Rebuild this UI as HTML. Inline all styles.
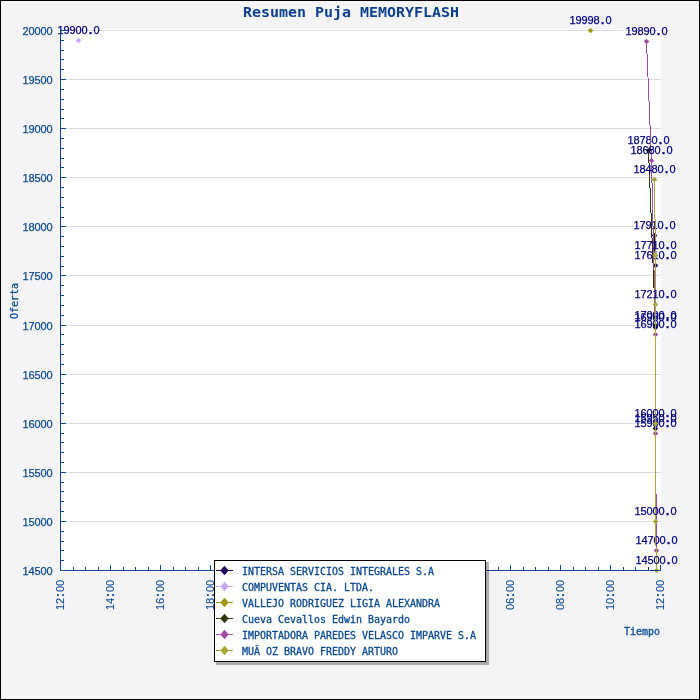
<!DOCTYPE html>
<html lang="es"><head><meta charset="utf-8"><title>Resumen Puja MEMORYFLASH</title>
<style>html,body{margin:0;padding:0;background:#f4f4f7;}svg{display:block;}text{font-family:"DejaVu Sans Mono","Liberation Mono",monospace;font-size:10px;}.n{font-family:"Liberation Sans","DejaVu Sans",sans-serif;font-size:11px;text-anchor:middle}.t{fill:#0b4a91;stroke:#0b4a91;stroke-width:0.3px}.v{fill:#000082;stroke:#000082;stroke-width:0.2px}.n{stroke-width:0.25px}.b{font-weight:bold;font-size:13px}.r{stroke-width:0.1px}.h{font-family:"DejaVu Sans Mono","Liberation Mono",monospace;font-weight:bold;font-size:13.5px;fill:#0b3f8f;stroke:none}</style></head><body>
<svg width="700" height="700" viewBox="0 0 700 700">
<rect x="0" y="0" width="700" height="700" fill="#f4f4f7"/>
<g style="will-change:transform">
<rect x="0.5" y="0.5" width="699" height="699" fill="none" stroke="#000" stroke-width="1" shape-rendering="crispEdges"/>
<rect x="59" y="29" width="602" height="543" fill="#fff"/>
<g stroke="#dcdcdc" stroke-width="1" shape-rendering="crispEdges">
<line x1="61" y1="521.5" x2="661" y2="521.5"/>
<line x1="61" y1="472.5" x2="661" y2="472.5"/>
<line x1="61" y1="423.5" x2="661" y2="423.5"/>
<line x1="61" y1="374.5" x2="661" y2="374.5"/>
<line x1="61" y1="325.5" x2="661" y2="325.5"/>
<line x1="61" y1="275.5" x2="661" y2="275.5"/>
<line x1="61" y1="226.5" x2="661" y2="226.5"/>
<line x1="61" y1="177.5" x2="661" y2="177.5"/>
<line x1="61" y1="128.5" x2="661" y2="128.5"/>
<line x1="61" y1="79.5" x2="661" y2="79.5"/>
<line x1="61" y1="30.5" x2="661" y2="30.5"/>
</g>
<polyline points="654.5,235.5 655.5,265.5 655.5,327.5 655.5,428.5" fill="none" stroke="#20005f" stroke-width="1" shape-rendering="crispEdges"/>
<polygon points="651.7,235.5 654.5,232.7 657.3,235.5 654.5,238.3" fill="#20005f"/>
<polygon points="652.7,265.5 655.5,262.7 658.3,265.5 655.5,268.3" fill="#20005f"/>
<polygon points="652.7,327.5 655.5,324.7 658.3,327.5 655.5,330.3" fill="#20005f"/>
<polygon points="652.7,428.5 655.5,425.7 658.3,428.5 655.5,431.3" fill="#20005f"/>
<text class="n v" x="636.5 642.5 648.5 654.5 660.5 666.5 672.5" y="229">17910<tspan class="b">.</tspan>0</text>
<text class="n v" x="637.5 643.5 649.5 655.5 661.5 667.5 673.5" y="259">17610<tspan class="b">.</tspan>0</text>
<text class="n v" x="637.5 643.5 649.5 655.5 661.5 667.5 673.5" y="321">16980<tspan class="b">.</tspan>0</text>
<text class="n v" x="637.5 643.5 649.5 655.5 661.5 667.5 673.5" y="422">15950<tspan class="b">.</tspan>0</text>
<polygon points="75.7,40.5 78.5,37.7 81.3,40.5 78.5,43.3" fill="#c8a8ff"/>
<text class="n v" x="60.5 66.5 72.5 78.5 84.5 90.5 96.5" y="34">19900<tspan class="b">.</tspan>0</text>
<polygon points="587.7,30.5 590.5,27.7 593.3,30.5 590.5,33.3" fill="#a09810"/>
<text class="n v" x="572.5 578.5 584.5 590.5 596.5 602.5 608.5" y="24">19998<tspan class="b">.</tspan>0</text>
<polyline points="648.5,150.5 655.5,325.5" fill="none" stroke="#303810" stroke-width="1" shape-rendering="crispEdges"/>
<polygon points="645.7,150.5 648.5,147.7 651.3,150.5 648.5,153.3" fill="#303810"/>
<polygon points="652.7,325.5 655.5,322.7 658.3,325.5 655.5,328.3" fill="#303810"/>
<text class="n v" x="630.5 636.5 642.5 648.5 654.5 660.5 666.5" y="144">18780<tspan class="b">.</tspan>0</text>
<text class="n v" x="637.5 643.5 649.5 655.5 661.5 667.5 673.5" y="319">17000<tspan class="b">.</tspan>0</text>
<polyline points="646.5,41.5 651.5,160.5 655.5,334.5 655.5,433.5 656.5,550.5" fill="none" stroke="#a050a0" stroke-width="1" shape-rendering="crispEdges"/>
<polygon points="643.7,41.5 646.5,38.7 649.3,41.5 646.5,44.3" fill="#a050a0"/>
<polygon points="648.7,160.5 651.5,157.7 654.3,160.5 651.5,163.3" fill="#a050a0"/>
<polygon points="652.7,334.5 655.5,331.7 658.3,334.5 655.5,337.3" fill="#a050a0"/>
<polygon points="652.7,433.5 655.5,430.7 658.3,433.5 655.5,436.3" fill="#a050a0"/>
<polygon points="653.7,550.5 656.5,547.7 659.3,550.5 656.5,553.3" fill="#a050a0"/>
<text class="n v" x="628.5 634.5 640.5 646.5 652.5 658.5 664.5" y="35">19890<tspan class="b">.</tspan>0</text>
<text class="n v" x="633.5 639.5 645.5 651.5 657.5 663.5 669.5" y="154">18680<tspan class="b">.</tspan>0</text>
<text class="n v" x="637.5 643.5 649.5 655.5 661.5 667.5 673.5" y="328">16900<tspan class="b">.</tspan>0</text>
<text class="n v" x="637.5 643.5 649.5 655.5 661.5 667.5 673.5" y="427">15900<tspan class="b">.</tspan>0</text>
<text class="n v" x="638.5 644.5 650.5 656.5 662.5 668.5 674.5" y="544">14700<tspan class="b">.</tspan>0</text>
<polyline points="654.5,179.5 655.5,255.5 655.5,304.5 655.5,423.5 655.5,521.5 656.5,570.5" fill="none" stroke="#a8a838" stroke-width="1" shape-rendering="crispEdges"/>
<polygon points="651.7,179.5 654.5,176.7 657.3,179.5 654.5,182.3" fill="#a8a838"/>
<polygon points="652.7,255.5 655.5,252.7 658.3,255.5 655.5,258.3" fill="#a8a838"/>
<polygon points="652.7,304.5 655.5,301.7 658.3,304.5 655.5,307.3" fill="#a8a838"/>
<polygon points="652.7,423.5 655.5,420.7 658.3,423.5 655.5,426.3" fill="#a8a838"/>
<polygon points="652.7,521.5 655.5,518.7 658.3,521.5 655.5,524.3" fill="#a8a838"/>
<polygon points="653.7,570.5 656.5,567.7 659.3,570.5 656.5,573.3" fill="#a8a838"/>
<text class="n v" x="636.5 642.5 648.5 654.5 660.5 666.5 672.5" y="173">18480<tspan class="b">.</tspan>0</text>
<text class="n v" x="637.5 643.5 649.5 655.5 661.5 667.5 673.5" y="249">17710<tspan class="b">.</tspan>0</text>
<text class="n v" x="637.5 643.5 649.5 655.5 661.5 667.5 673.5" y="298">17210<tspan class="b">.</tspan>0</text>
<text class="n v" x="637.5 643.5 649.5 655.5 661.5 667.5 673.5" y="417">16000<tspan class="b">.</tspan>0</text>
<text class="n v" x="637.5 643.5 649.5 655.5 661.5 667.5 673.5" y="515">15000<tspan class="b">.</tspan>0</text>
<text class="n v" x="638.5 644.5 650.5 656.5 662.5 668.5 674.5" y="564">14500<tspan class="b">.</tspan>0</text>
<g stroke="#0b4a91" stroke-width="1" shape-rendering="crispEdges">
<line x1="60.5" y1="30" x2="60.5" y2="571"/>
<line x1="60" y1="570.5" x2="661" y2="570.5"/>
<line x1="61" y1="570.5" x2="66" y2="570.5"/>
<line x1="61" y1="560.5" x2="64" y2="560.5"/>
<line x1="61" y1="550.5" x2="64" y2="550.5"/>
<line x1="61" y1="541.5" x2="64" y2="541.5"/>
<line x1="61" y1="531.5" x2="64" y2="531.5"/>
<line x1="61" y1="521.5" x2="66" y2="521.5"/>
<line x1="61" y1="511.5" x2="64" y2="511.5"/>
<line x1="61" y1="501.5" x2="64" y2="501.5"/>
<line x1="61" y1="491.5" x2="64" y2="491.5"/>
<line x1="61" y1="482.5" x2="64" y2="482.5"/>
<line x1="61" y1="472.5" x2="66" y2="472.5"/>
<line x1="61" y1="462.5" x2="64" y2="462.5"/>
<line x1="61" y1="452.5" x2="64" y2="452.5"/>
<line x1="61" y1="442.5" x2="64" y2="442.5"/>
<line x1="61" y1="433.5" x2="64" y2="433.5"/>
<line x1="61" y1="423.5" x2="66" y2="423.5"/>
<line x1="61" y1="413.5" x2="64" y2="413.5"/>
<line x1="61" y1="403.5" x2="64" y2="403.5"/>
<line x1="61" y1="393.5" x2="64" y2="393.5"/>
<line x1="61" y1="383.5" x2="64" y2="383.5"/>
<line x1="61" y1="374.5" x2="66" y2="374.5"/>
<line x1="61" y1="364.5" x2="64" y2="364.5"/>
<line x1="61" y1="354.5" x2="64" y2="354.5"/>
<line x1="61" y1="344.5" x2="64" y2="344.5"/>
<line x1="61" y1="334.5" x2="64" y2="334.5"/>
<line x1="61" y1="325.5" x2="66" y2="325.5"/>
<line x1="61" y1="315.5" x2="64" y2="315.5"/>
<line x1="61" y1="305.5" x2="64" y2="305.5"/>
<line x1="61" y1="295.5" x2="64" y2="295.5"/>
<line x1="61" y1="285.5" x2="64" y2="285.5"/>
<line x1="61" y1="275.5" x2="66" y2="275.5"/>
<line x1="61" y1="266.5" x2="64" y2="266.5"/>
<line x1="61" y1="256.5" x2="64" y2="256.5"/>
<line x1="61" y1="246.5" x2="64" y2="246.5"/>
<line x1="61" y1="236.5" x2="64" y2="236.5"/>
<line x1="61" y1="226.5" x2="66" y2="226.5"/>
<line x1="61" y1="217.5" x2="64" y2="217.5"/>
<line x1="61" y1="207.5" x2="64" y2="207.5"/>
<line x1="61" y1="197.5" x2="64" y2="197.5"/>
<line x1="61" y1="187.5" x2="64" y2="187.5"/>
<line x1="61" y1="177.5" x2="66" y2="177.5"/>
<line x1="61" y1="167.5" x2="64" y2="167.5"/>
<line x1="61" y1="158.5" x2="64" y2="158.5"/>
<line x1="61" y1="148.5" x2="64" y2="148.5"/>
<line x1="61" y1="138.5" x2="64" y2="138.5"/>
<line x1="61" y1="128.5" x2="66" y2="128.5"/>
<line x1="61" y1="118.5" x2="64" y2="118.5"/>
<line x1="61" y1="109.5" x2="64" y2="109.5"/>
<line x1="61" y1="99.5" x2="64" y2="99.5"/>
<line x1="61" y1="89.5" x2="64" y2="89.5"/>
<line x1="61" y1="79.5" x2="66" y2="79.5"/>
<line x1="61" y1="69.5" x2="64" y2="69.5"/>
<line x1="61" y1="59.5" x2="64" y2="59.5"/>
<line x1="61" y1="50.5" x2="64" y2="50.5"/>
<line x1="61" y1="40.5" x2="64" y2="40.5"/>
<line x1="61" y1="30.5" x2="66" y2="30.5"/>
<line x1="60.5" y1="565" x2="60.5" y2="570"/>
<line x1="73.5" y1="567" x2="73.5" y2="570"/>
<line x1="85.5" y1="567" x2="85.5" y2="570"/>
<line x1="98.5" y1="567" x2="98.5" y2="570"/>
<line x1="110.5" y1="565" x2="110.5" y2="570"/>
<line x1="123.5" y1="567" x2="123.5" y2="570"/>
<line x1="135.5" y1="567" x2="135.5" y2="570"/>
<line x1="148.5" y1="567" x2="148.5" y2="570"/>
<line x1="160.5" y1="565" x2="160.5" y2="570"/>
<line x1="173.5" y1="567" x2="173.5" y2="570"/>
<line x1="185.5" y1="567" x2="185.5" y2="570"/>
<line x1="198.5" y1="567" x2="198.5" y2="570"/>
<line x1="210.5" y1="565" x2="210.5" y2="570"/>
<line x1="223.5" y1="567" x2="223.5" y2="570"/>
<line x1="235.5" y1="567" x2="235.5" y2="570"/>
<line x1="248.5" y1="567" x2="248.5" y2="570"/>
<line x1="260.5" y1="565" x2="260.5" y2="570"/>
<line x1="273.5" y1="567" x2="273.5" y2="570"/>
<line x1="285.5" y1="567" x2="285.5" y2="570"/>
<line x1="298.5" y1="567" x2="298.5" y2="570"/>
<line x1="310.5" y1="565" x2="310.5" y2="570"/>
<line x1="323.5" y1="567" x2="323.5" y2="570"/>
<line x1="335.5" y1="567" x2="335.5" y2="570"/>
<line x1="348.5" y1="567" x2="348.5" y2="570"/>
<line x1="360.5" y1="565" x2="360.5" y2="570"/>
<line x1="373.5" y1="567" x2="373.5" y2="570"/>
<line x1="385.5" y1="567" x2="385.5" y2="570"/>
<line x1="398.5" y1="567" x2="398.5" y2="570"/>
<line x1="410.5" y1="565" x2="410.5" y2="570"/>
<line x1="423.5" y1="567" x2="423.5" y2="570"/>
<line x1="435.5" y1="567" x2="435.5" y2="570"/>
<line x1="448.5" y1="567" x2="448.5" y2="570"/>
<line x1="460.5" y1="565" x2="460.5" y2="570"/>
<line x1="473.5" y1="567" x2="473.5" y2="570"/>
<line x1="485.5" y1="567" x2="485.5" y2="570"/>
<line x1="498.5" y1="567" x2="498.5" y2="570"/>
<line x1="510.5" y1="565" x2="510.5" y2="570"/>
<line x1="523.5" y1="567" x2="523.5" y2="570"/>
<line x1="535.5" y1="567" x2="535.5" y2="570"/>
<line x1="548.5" y1="567" x2="548.5" y2="570"/>
<line x1="560.5" y1="565" x2="560.5" y2="570"/>
<line x1="573.5" y1="567" x2="573.5" y2="570"/>
<line x1="585.5" y1="567" x2="585.5" y2="570"/>
<line x1="598.5" y1="567" x2="598.5" y2="570"/>
<line x1="610.5" y1="565" x2="610.5" y2="570"/>
<line x1="623.5" y1="567" x2="623.5" y2="570"/>
<line x1="635.5" y1="567" x2="635.5" y2="570"/>
<line x1="648.5" y1="567" x2="648.5" y2="570"/>
<line x1="660.5" y1="565" x2="660.5" y2="570"/>
</g>
<text class="n t" x="25.5 31.5 37.5 43.5 49.5" y="575">14500</text>
<text class="n t" x="25.5 31.5 37.5 43.5 49.5" y="526">15000</text>
<text class="n t" x="25.5 31.5 37.5 43.5 49.5" y="477">15500</text>
<text class="n t" x="25.5 31.5 37.5 43.5 49.5" y="428">16000</text>
<text class="n t" x="25.5 31.5 37.5 43.5 49.5" y="379">16500</text>
<text class="n t" x="25.5 31.5 37.5 43.5 49.5" y="330">17000</text>
<text class="n t" x="25.5 31.5 37.5 43.5 49.5" y="280">17500</text>
<text class="n t" x="25.5 31.5 37.5 43.5 49.5" y="231">18000</text>
<text class="n t" x="25.5 31.5 37.5 43.5 49.5" y="182">18500</text>
<text class="n t" x="25.5 31.5 37.5 43.5 49.5" y="133">19000</text>
<text class="n t" x="25.5 31.5 37.5 43.5 49.5" y="84">19500</text>
<text class="n t" x="25.5 31.5 37.5 43.5 49.5" y="35">20000</text>
<text class="n t r" transform="translate(63.7,609.5) rotate(-90)" x="2.5 8.5 14.5 20.5 26.5" y="0">12<tspan class="b">:</tspan>00</text>
<text class="n t r" transform="translate(113.7,609.5) rotate(-90)" x="2.5 8.5 14.5 20.5 26.5" y="0">14<tspan class="b">:</tspan>00</text>
<text class="n t r" transform="translate(163.7,609.5) rotate(-90)" x="2.5 8.5 14.5 20.5 26.5" y="0">16<tspan class="b">:</tspan>00</text>
<text class="n t r" transform="translate(213.7,609.5) rotate(-90)" x="2.5 8.5 14.5 20.5 26.5" y="0">18<tspan class="b">:</tspan>00</text>
<text class="n t r" transform="translate(263.7,609.5) rotate(-90)" x="2.5 8.5 14.5 20.5 26.5" y="0">20<tspan class="b">:</tspan>00</text>
<text class="n t r" transform="translate(313.7,609.5) rotate(-90)" x="2.5 8.5 14.5 20.5 26.5" y="0">22<tspan class="b">:</tspan>00</text>
<text class="n t r" transform="translate(363.7,609.5) rotate(-90)" x="2.5 8.5 14.5 20.5 26.5" y="0">00<tspan class="b">:</tspan>00</text>
<text class="n t r" transform="translate(413.7,609.5) rotate(-90)" x="2.5 8.5 14.5 20.5 26.5" y="0">02<tspan class="b">:</tspan>00</text>
<text class="n t r" transform="translate(463.7,609.5) rotate(-90)" x="2.5 8.5 14.5 20.5 26.5" y="0">04<tspan class="b">:</tspan>00</text>
<text class="n t r" transform="translate(513.7,609.5) rotate(-90)" x="2.5 8.5 14.5 20.5 26.5" y="0">06<tspan class="b">:</tspan>00</text>
<text class="n t r" transform="translate(563.7,609.5) rotate(-90)" x="2.5 8.5 14.5 20.5 26.5" y="0">08<tspan class="b">:</tspan>00</text>
<text class="n t r" transform="translate(613.7,609.5) rotate(-90)" x="2.5 8.5 14.5 20.5 26.5" y="0">10<tspan class="b">:</tspan>00</text>
<text class="n t r" transform="translate(663.7,609.5) rotate(-90)" x="2.5 8.5 14.5 20.5 26.5" y="0">12<tspan class="b">:</tspan>00</text>
<text class="t" transform="translate(18,319) rotate(-90)" textLength="36" lengthAdjust="spacingAndGlyphs">Oferta</text>
<text class="t" x="624" y="635" textLength="36" lengthAdjust="spacingAndGlyphs">Tiempo</text>
<text class="h" x="243" y="17" textLength="216" lengthAdjust="spacingAndGlyphs">Resumen Puja MEMORYFLASH</text>
<path d="M486 562h3v103h-273v-3h270z" fill="#000" fill-opacity="0.3"/>
<rect x="214.5" y="560.5" width="271" height="101" fill="#fff" stroke="#000" stroke-width="1" shape-rendering="crispEdges"/>
<line x1="216" y1="570.5" x2="233" y2="570.5" stroke="#20005f" stroke-width="1" shape-rendering="crispEdges"/>
<polygon points="220.3,570.5 224.5,565.8 228.7,570.5 224.5,575.2" fill="#20005f"/>
<text class="t" x="242" y="575" textLength="192" lengthAdjust="spacingAndGlyphs">INTERSA SERVICIOS INTEGRALES S.A</text>
<line x1="216" y1="586.5" x2="233" y2="586.5" stroke="#c8a8ff" stroke-width="1" shape-rendering="crispEdges"/>
<polygon points="220.3,586.5 224.5,581.8 228.7,586.5 224.5,591.2" fill="#c8a8ff"/>
<text class="t" x="242" y="591" textLength="132" lengthAdjust="spacingAndGlyphs">COMPUVENTAS CIA. LTDA.</text>
<line x1="216" y1="602.5" x2="233" y2="602.5" stroke="#a09810" stroke-width="1" shape-rendering="crispEdges"/>
<polygon points="220.3,602.5 224.5,597.8 228.7,602.5 224.5,607.2" fill="#a09810"/>
<text class="t" x="242" y="607" textLength="198" lengthAdjust="spacingAndGlyphs">VALLEJO RODRIGUEZ LIGIA ALEXANDRA</text>
<line x1="216" y1="618.5" x2="233" y2="618.5" stroke="#303810" stroke-width="1" shape-rendering="crispEdges"/>
<polygon points="220.3,618.5 224.5,613.8 228.7,618.5 224.5,623.2" fill="#303810"/>
<text class="t" x="242" y="623" textLength="168" lengthAdjust="spacingAndGlyphs">Cueva Cevallos Edwin Bayardo</text>
<line x1="216" y1="634.5" x2="233" y2="634.5" stroke="#a050a0" stroke-width="1" shape-rendering="crispEdges"/>
<polygon points="220.3,634.5 224.5,629.8 228.7,634.5 224.5,639.2" fill="#a050a0"/>
<text class="t" x="242" y="639" textLength="234" lengthAdjust="spacingAndGlyphs">IMPORTADORA PAREDES VELASCO IMPARVE S.A</text>
<line x1="216" y1="650.5" x2="233" y2="650.5" stroke="#a8a838" stroke-width="1" shape-rendering="crispEdges"/>
<polygon points="220.3,650.5 224.5,645.8 228.7,650.5 224.5,655.2" fill="#a8a838"/>
<text class="t" x="242" y="655" textLength="156" lengthAdjust="spacingAndGlyphs">MUÃ OZ BRAVO FREDDY ARTURO</text>
</g>
</svg></body></html>
